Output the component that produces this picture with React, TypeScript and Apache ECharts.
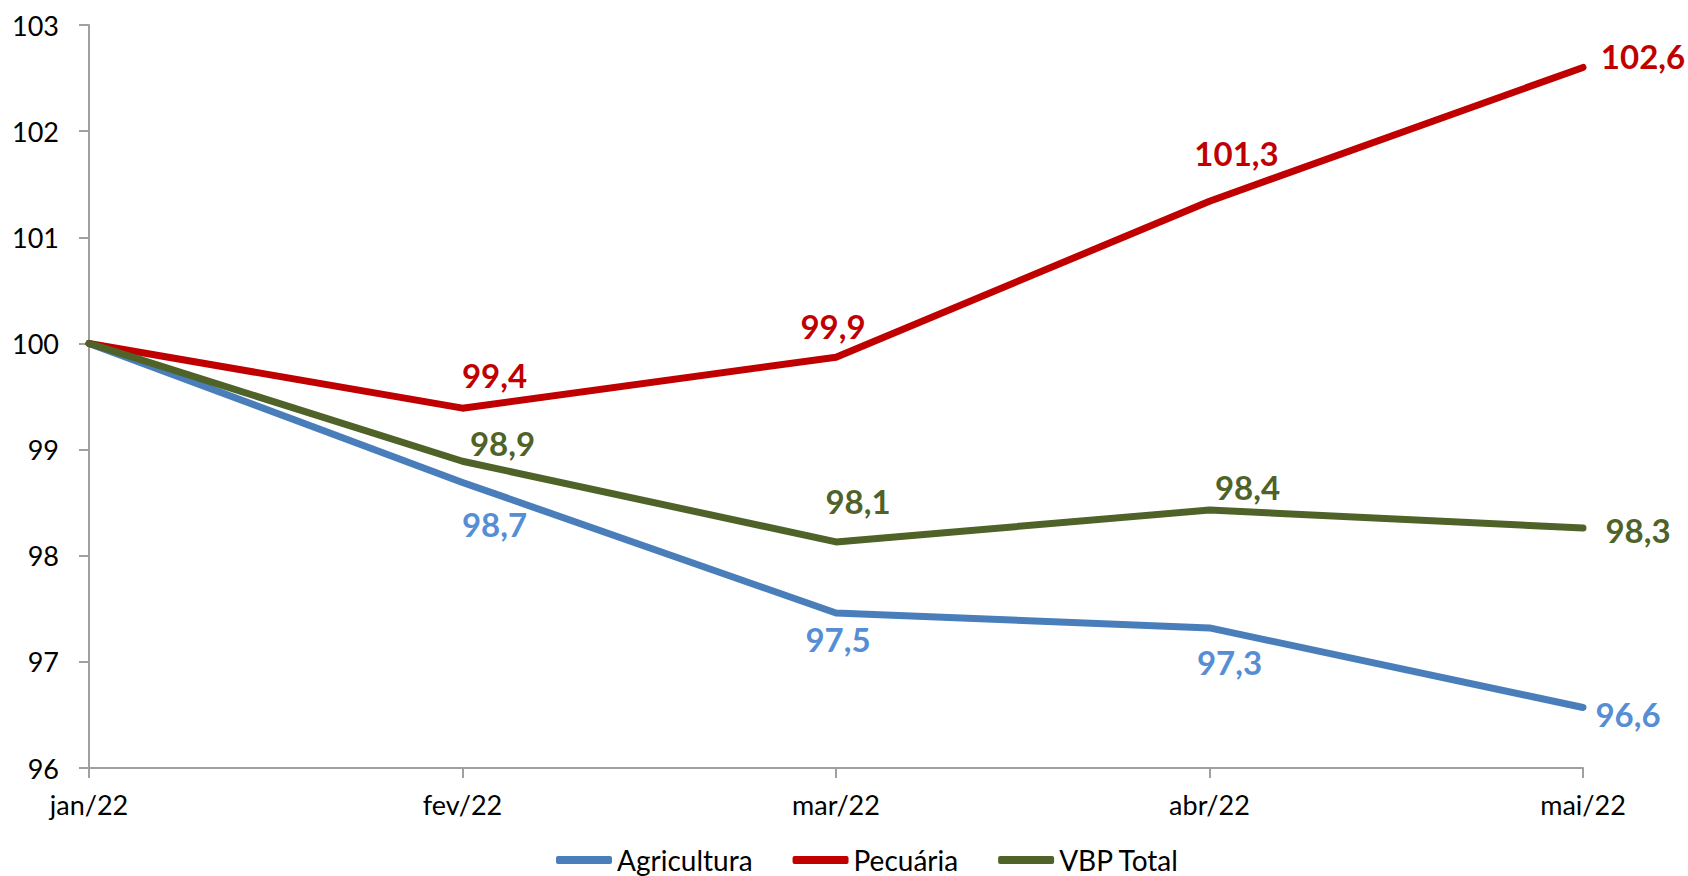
import React, { useEffect, useRef } from "react";
import * as echarts from "echarts";

const categories = ["jan/22", "fev/22", "mar/22", "abr/22", "mai/22"];
const agricultura = [100, 98.69, 97.46, 97.32, 96.57];
const pecuaria = [100, 99.39, 99.87, 101.34, 102.6];
const vbpTotal = [100, 98.89, 98.13, 98.43, 98.26];
const yTicks = { min: 96, max: 103, interval: 1 };

// label offsets (styling) for each point; null = no label
const agriOffsets: ([number, number] | null)[] = [null, [32, 42], [2, 26], [20, 34], [45, 7]];
const pecOffsets: ([number, number] | null)[] = [null, [32, -33], [-3, -31], [27, -48], [60, -11]];
const vbpOffsets: ([number, number] | null)[] = [null, [40, -18], [22, -41], [38, -23], [55, 2]];

const FONT = "Lato, 'Open Sans', sans-serif";

function buildData(values: number[], offsets: ([number, number] | null)[], labelColor: string) {
  return values.map((v, i) => {
    const off = offsets[i];
    return {
      value: v,
      label: off
        ? {
            show: true,
            position: "inside",
            offset: off,
            align: "center",
            verticalAlign: "middle",
            color: labelColor,
            fontFamily: FONT,
            fontWeight: "bold",
            fontSize: 33,
            formatter: (p: any) => Number(p.value).toFixed(1).replace(".", ","),
          }
        : { show: false },
    };
  });
}

export default function App() {
  const ref = useRef<HTMLDivElement>(null);
  useEffect(() => {
    if (!ref.current) return;
    const chart = echarts.init(ref.current, null, { renderer: "svg" });
    const mkSeries = (name: string, values: number[], offsets: any, lineColor: string, labelColor: string) => ({
      name,
      type: "line",
      data: buildData(values, offsets, labelColor),
      symbol: "circle",
      symbolSize: 2,
      showSymbol: true,
      lineStyle: { width: 7, color: lineColor, cap: "round", join: "round" },
      itemStyle: { color: lineColor },
      emphasis: { disabled: true },
      z: 2,
    });
    chart.setOption({
      animation: false,
      backgroundColor: "#ffffff",
      grid: { left: 89, right: 105, top: 25, bottom: 108, containLabel: false },
      legend: {
        left: 551,
        top: 841,
        icon: "roundRect",
        itemWidth: 56,
        itemHeight: 8,
        itemGap: 40,
        textStyle: { fontFamily: FONT, fontSize: 28, color: "#000" },
        data: ["Agricultura", "Pecuária", "VBP Total"],
      },
      xAxis: {
        type: "category",
        data: categories,
        boundaryGap: false,
        axisLine: { lineStyle: { color: "#A0A0A0", width: 2 } },
        axisTick: { show: true, length: 10, alignWithLabel: true, lineStyle: { color: "#A0A0A0", width: 2 } },
        axisLabel: { color: "#000", fontFamily: FONT, fontSize: 27, margin: 23 },
        splitLine: { show: false },
      },
      yAxis: {
        type: "value",
        min: yTicks.min,
        max: yTicks.max,
        interval: yTicks.interval,
        axisLine: { show: true, lineStyle: { color: "#A0A0A0", width: 2 } },
        axisTick: { show: true, length: 10, lineStyle: { color: "#A0A0A0", width: 2 } },
        axisLabel: { color: "#000", fontFamily: FONT, fontSize: 27, margin: 30 },
        splitLine: { show: false },
      },
      series: [
        mkSeries("Agricultura", agricultura, agriOffsets, "#4A7EBB", "#558ED5"),
        mkSeries("Pecuária", pecuaria, pecOffsets, "#C00000", "#C00000"),
        mkSeries("VBP Total", vbpTotal, vbpOffsets, "#4F6228", "#4F6228"),
      ],
    });
    return () => chart.dispose();
  }, []);
  return (
    <div
      ref={ref}
      style={{ position: "fixed", left: 0, top: 0, width: 1688, height: 876, background: "#fff" }}
    />
  );
}
